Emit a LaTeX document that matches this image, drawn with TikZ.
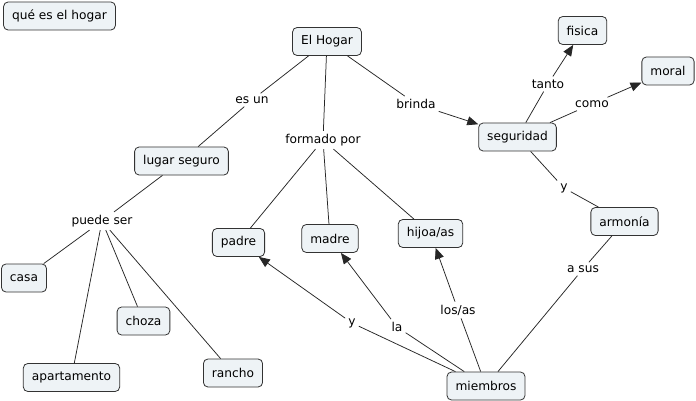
\documentclass[tikz,border=0pt]{standalone}
\usepackage{fontspec}
\setmainfont{DejaVu Sans}
\usetikzlibrary{arrows.meta}
\definecolor{boxfill}{HTML}{EEF3F6}
\definecolor{boxline}{HTML}{333333}
\begin{document}
\begin{tikzpicture}[x=1pt,y=-1pt,
  concept/.style={draw=boxline, fill=boxfill, rounded corners=4.5pt, minimum height=28pt, inner xsep=8.5pt, inner ysep=2pt, font=\fontsize{12.2}{14}\selectfont, line width=0.8pt},
  lbl/.style={inner sep=3pt, font=\fontsize{12.2}{14}\selectfont},
  link/.style={draw=black!85, line width=0.75pt},
  arr/.style={link, -{Triangle[length=11pt,width=9pt]}}]
\fill[white] (0,0) rectangle (696,401);
\useasboundingbox (0,0) rectangle (696,401);
% concepts
\node[concept] (q) at (59.5,16) {qué es el hogar};
\node[concept] (hogar) at (327,41.5) {El Hogar};
\node[concept] (seg) at (517.5,137) {seguridad};
\node[concept] (fis) at (582.5,30.5) {fisica};
\node[concept] (mor) at (668,71) {moral};
\node[concept] (lugar) at (181.5,161) {lugar seguro};
\node[concept] (casa) at (24,278) {casa};
\node[concept] (choza) at (143.5,321) {choza};
\node[concept] (apto) at (71.5,377.5) {apartamento};
\node[concept] (rancho) at (233,373) {rancho};
\node[concept] (padre) at (238.5,242.5) {padre};
\node[concept] (madre) at (330,238.5) {madre};
\node[concept] (hijo) at (430.5,233.5) {hijoa/as};
\node[concept] (arm) at (624.5,221.5) {armonía};
\node[concept] (miem) at (486,386) {miembros};
% linking phrases
\node[lbl] (esun) at (252,100) {es un};
\node[lbl] (formado) at (323,140) {formado por};
\node[lbl] (brinda) at (416,104) {brinda};
\node[lbl] (tanto) at (548,84) {tanto};
\node[lbl] (como) at (592,104) {como};
\node[lbl] (y1) at (564,188) {y};
\node[lbl] (puede) at (102,221) {puede ser};
\node[lbl] (asus) at (583,269) {a sus};
\node[lbl] (y2) at (352,323) {y};
\node[lbl] (la) at (397,327) {la};
\node[lbl] (losas) at (458,310) {los/as};
% connectors
\draw[link] (hogar) -- (esun);
\draw[link] (esun) -- (lugar);
\draw[link] (hogar) -- (formado);
\draw[link] (formado) -- (padre);
\draw[link] (formado) -- (madre);
\draw[link] (formado) -- (hijo);
\draw[link] (hogar) -- (brinda);
\draw[arr] (brinda) -- (seg);
\draw[link] (seg) -- (tanto);
\draw[arr] (tanto) -- (fis);
\draw[link] (seg) -- (como);
\draw[arr] (como) -- (mor);
\draw[link] (seg) -- (y1);
\draw[link] (y1) -- (arm);
\draw[link] (arm) -- (asus);
\draw[link] (asus) -- (miem);
\draw[link] (lugar) -- (puede);
\draw[link] (puede) -- (casa);
\draw[link] (puede) -- (choza);
\draw[link] (puede) -- (apto);
\draw[link] (puede) -- (rancho);
\draw[link] (miem) -- (y2);
\draw[arr] (y2) -- (padre);
\draw[link] (miem) -- (la);
\draw[arr] (la) -- (madre);
\draw[link] (miem) -- (losas);
\draw[arr] (losas) -- (hijo);
\end{tikzpicture}
\end{document}
